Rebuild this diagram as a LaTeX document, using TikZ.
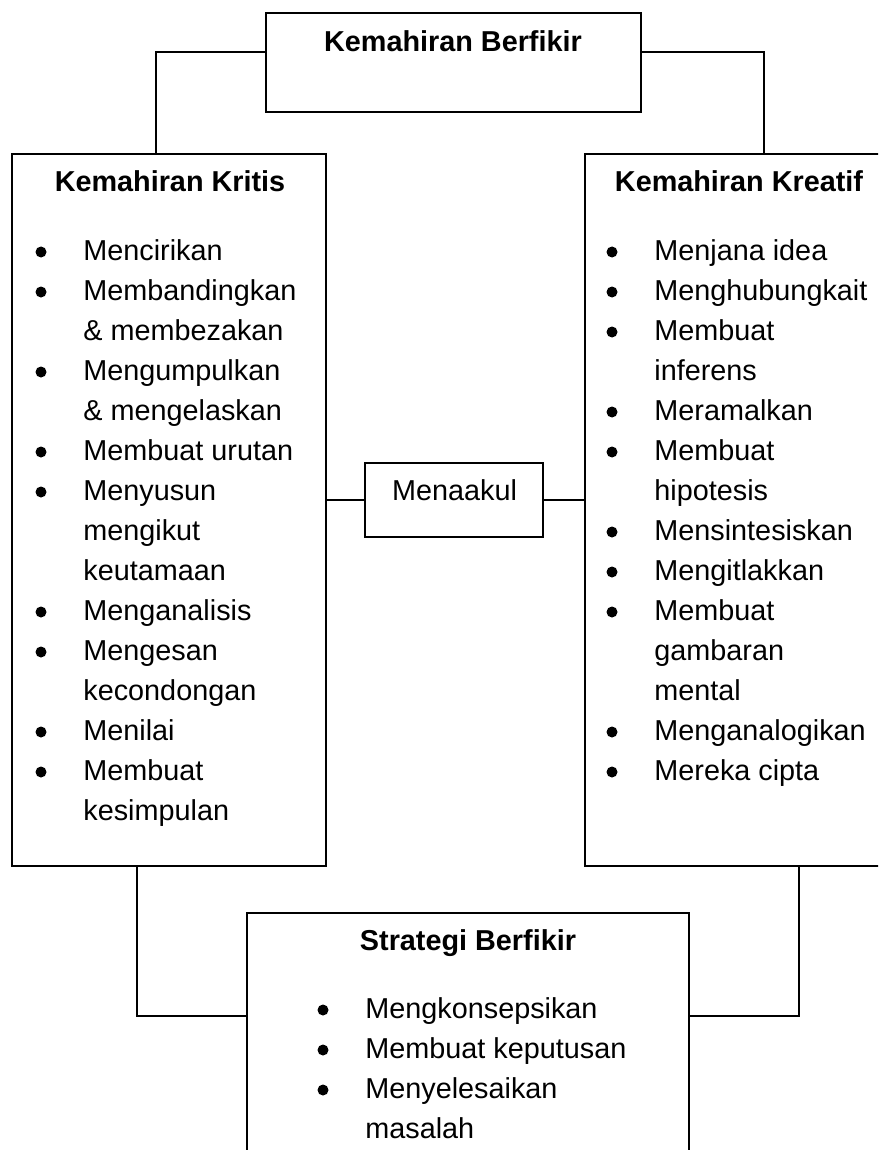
\documentclass[tikz,border=0pt]{standalone}
\usepackage{fontspec}
\setmainfont{Liberation Sans}
\newcommand{\bodysize}{\fontsize{14.4pt}{20pt}\selectfont}
\tikzset{
  box/.style={draw,rectangle,inner sep=0pt,line width=0.8pt},
  link/.style={line width=0.8pt},
  boxtitle/.style={anchor=base,inner sep=0pt,font=\bodysize\bfseries},
  itemtext/.style={anchor=base west,inner sep=0pt,font=\bodysize},
  bulletdot/.style={circle,fill,inner sep=0pt,minimum size=5.5pt},
}
\begin{document}
\begin{tikzpicture}[x=0.5pt,y=-0.5pt]
\clip (0,0) rectangle (878,1150);

% boxes
\draw (453.5,62.5) node(TOP)[box,minimum width=187.5pt,minimum height=49.5pt]{};
\draw (169,510) node(KRITIS)[box,minimum width=157pt,minimum height=356pt]{};
\draw (742.5,510) node(KREATIF)[box,minimum width=157.5pt,minimum height=356pt]{};
\draw (454,500) node(MENAAKUL)[box,minimum width=89pt,minimum height=37pt]{};
\draw (468,1056.5) node(STRATEGI)[box,minimum width=221pt,minimum height=143.5pt]{};

% titles
\draw (453,52) node(TOPT)[boxtitle]{Kemahiran Berfikir};
\draw (170,192) node(KRITIST)[boxtitle]{Kemahiran Kritis};
\draw (739,192) node(KREATIFT)[boxtitle]{Kemahiran Kreatif};
\draw (468,950) node(STRATEGIT)[boxtitle]{Strategi Berfikir};
\draw (454.5,500) node(MENAAKULT)[boxtitle,font=\bodysize]{Menaakul};

% lists
\foreach \t [count=\i] in {Mencirikan, Membandingkan, \& membezakan, Mengumpulkan,
  \& mengelaskan, Membuat urutan, Menyusun, mengikut, keutamaan, Menganalisis,
  Mengesan, kecondongan, Menilai, Membuat, kesimpulan}
  \node[itemtext] (kritis\i) at (83,220+40*\i) {\t};
\foreach \i in {1,2,4,6,7,10,11,13,14}
  \node[bulletdot] (kritisdot\i) at (41,212+40*\i) {};

\foreach \t [count=\i] in {Menjana idea, Menghubungkait, Membuat, inferens, Meramalkan,
  Membuat, hipotesis, Mensintesiskan, Mengitlakkan, Membuat, gambaran, mental,
  Menganalogikan, Mereka cipta}
  \node[itemtext] (kreatif\i) at (654,220+40*\i) {\t};
\foreach \i in {1,2,3,5,6,8,9,10,13,14}
  \node[bulletdot] (kreatifdot\i) at (612,212+40*\i) {};

\foreach \t [count=\i] in {Mengkonsepsikan, Membuat keputusan, Menyelesaikan, masalah}
  \node[itemtext] (strategi\i) at (365,978+40*\i) {\t};
\foreach \i in {1,2,3}
  \node[bulletdot] (strategidot\i) at (323,970+40*\i) {};

% connectors
\draw[link] (TOP.west |- 0,52) -| (KRITIS.north -| 156,0);
\draw[link] (TOP.east |- 0,52) -| (KREATIF.north -| 764,0);
\draw[link] (KRITIS.east |- MENAAKUL.west) -- (MENAAKUL.west);
\draw[link] (MENAAKUL.east) -- (KREATIF.west |- MENAAKUL.east);
\draw[link] (KRITIS.south -| 137,0) |- (STRATEGI.west |- 0,1016);
\draw[link] (KREATIF.south -| 799,0) |- (STRATEGI.east |- 0,1016);

\end{tikzpicture}
\end{document}
